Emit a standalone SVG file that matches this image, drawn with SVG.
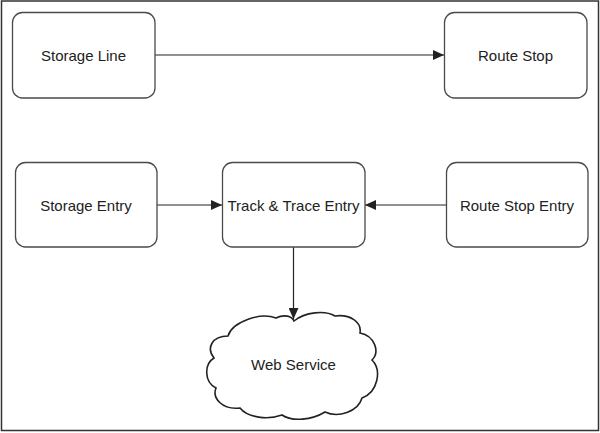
<svg xmlns="http://www.w3.org/2000/svg" width="600" height="433" viewBox="0 0 600 433">
<style>
.box{fill:#fff;stroke:#4a4a4a;stroke-width:1.3}
.lbl{font-family:"Liberation Sans",Arial,sans-serif;font-size:15px;fill:#222;text-anchor:middle;dominant-baseline:central}
.conn{stroke:#222;stroke-width:1.2;fill:none}
</style>
<defs>
<marker id="ah" markerUnits="userSpaceOnUse" markerWidth="12" markerHeight="10" refX="11" refY="5" orient="auto">
<path d="M0,0 L11,5 L0,10 Z" fill="#222"/>
</marker>
</defs>
<rect x="1.5" y="1" width="597" height="429.5" fill="#fff" stroke="#333" stroke-width="1.5"/>
<g id="connectors">
<line class="conn" x1="155" y1="55" x2="444" y2="55" marker-end="url(#ah)"/>
<line class="conn" x1="157" y1="205" x2="222" y2="205" marker-end="url(#ah)"/>
<line class="conn" x1="446" y1="205" x2="365" y2="205" marker-end="url(#ah)"/>
<line class="conn" x1="293.5" y1="247" x2="293.5" y2="319" marker-end="url(#ah)"/>
</g>
<g id="storage-line">
<rect class="box" x="12.5" y="12.5" width="142.5" height="85.5" rx="10"/>
<text class="lbl" x="83.5" y="55">Storage Line</text>
</g>
<g id="route-stop">
<rect class="box" x="444.5" y="12.5" width="142.5" height="85.5" rx="10"/>
<text class="lbl" x="515.5" y="55">Route Stop</text>
</g>
<g id="storage-entry">
<rect class="box" x="15.5" y="162.5" width="141.5" height="84.5" rx="10"/>
<text class="lbl" x="86" y="205">Storage Entry</text>
</g>
<g id="track-trace-entry">
<rect class="box" x="222.5" y="162.5" width="142.5" height="84.5" rx="10"/>
<text class="lbl" x="293.5" y="205">Track &amp; Trace Entry</text>
</g>
<g id="route-stop-entry">
<rect class="box" x="446.5" y="162.5" width="141.5" height="84.5" rx="10"/>
<text class="lbl" x="517" y="205">Route Stop Entry</text>
</g>
<g id="web-service">
<path d="M294 321 C305 312,325 310,335 316 C350 314,362 322,360 333 C375 336,380 352,372 360 C382 370,378 392,362 398 C358 412,338 418,325 412 C312 420,292 422,282 415 C268 420,248 418,240 408 C222 410,212 398,216 388 C204 382,204 364,214 358 C206 348,212 336,228 336 C232 322,260 312,276 318 C284 314,292 316,294 321 Z" fill="#fff" stroke="#222" stroke-width="1.6"/>
<text class="lbl" x="293.5" y="364">Web Service</text>
</g>
</svg>
